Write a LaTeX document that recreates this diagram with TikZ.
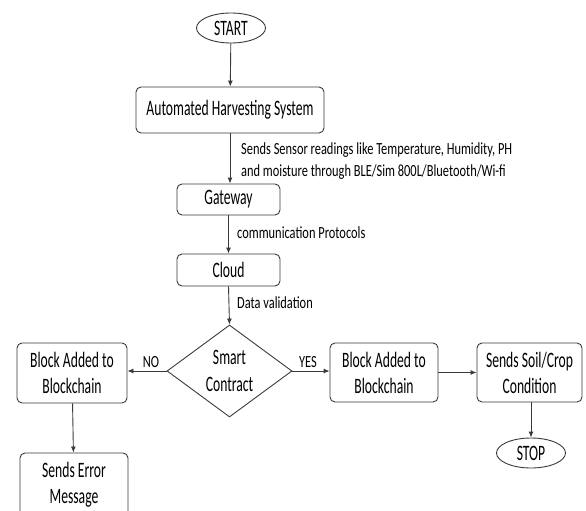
\documentclass[tikz,border=0pt]{standalone}
\usepackage{fontspec}
\setmainfont{Carlito}[FakeStretch=0.62]
\newfontfamily\lblfont{Carlito}[FakeStretch=0.73]
\usetikzlibrary{shapes.geometric,arrows.meta}
\definecolor{lc}{HTML}{3A3A3A}
\begin{document}
\begin{tikzpicture}[x=1pt,y=-1pt,
 box/.style={draw=lc, rounded corners=5pt, line width=0.9pt, inner sep=0pt, align=center, font=\fontsize{22}{26}\selectfont},
 term/.style={draw=lc, ellipse, line width=0.9pt, inner sep=0pt, minimum width=69pt, minimum height=30pt, font=\fontsize{22}{26}\selectfont},
 lbl/.style={font=\lblfont\fontsize{17}{22}\selectfont, inner sep=0pt, align=left},
 arr/.style={draw=lc, line width=0.9pt, -{Latex[length=6pt,width=5pt]}}
]
\useasboundingbox (0,0) rectangle (586,511);
\clip (0,0) rectangle (586,511);
\node[term] (start) at (231,28) {START};
\node[box, minimum width=188pt, minimum height=46pt] (ahs) at (230,110) {Automated Harvesting System};
\node[box, minimum width=103pt, minimum height=31pt] (gw) at (228.5,199.5) {Gateway};
\node[box, minimum width=103pt, minimum height=32pt] (cloud) at (228.5,270) {Cloud};
\node[draw=lc, diamond, line width=0.9pt, inner sep=0pt, minimum width=125pt, minimum height=92pt] (dia) at (229.5,371) {};
\node[align=center, inner sep=0pt, font=\fontsize{22}{27}\selectfont] (diat) at (dia.center) {Smart\\Contract};
\node[box, minimum width=110pt, minimum height=60pt] (lb) at (72,373) {Block Added to\\Blockchain};
\node[box, minimum width=108pt, minimum height=64pt] (err) at (74,485) {Sends Error\\Message};
\node[box, minimum width=108pt, minimum height=59pt] (rb) at (384,372.5) {Block Added to\\Blockchain};
\node[box, minimum width=105pt, minimum height=59pt] (soil) at (529.5,372.5) {Sends Soil/Crop\\Condition};
\node[term] (stop) at (531,453) {STOP};

\node[lbl, anchor=west] (l1) at (241,150) {Sends Sensor readings like Temperature, Humidity, PH};
\node[lbl, anchor=west] (l2) at (241,172) {and moisture through BLE/Sim 800L/Bluetooth/Wi-fi};
\node[lbl, anchor=west] (l3) at (237,233) {communication Protocols};
\node[lbl, anchor=west] (l4) at (237,303) {Data validation};
\node[lbl] (no) at (151,362) {NO};
\node[lbl] (yes) at (308,362) {YES};

\draw[arr] (start) -- (ahs);
\draw[arr] (ahs.south) -- (ahs.south |- gw.north);
\draw[arr] (gw) -- (cloud);
\draw[arr] (cloud.south) -- (dia.north);
\draw[arr] (dia.west) -- (dia.west -| lb.east);
\draw[arr] (dia.east) -- (dia.east -| rb.west);
\draw[arr] (rb) -- (soil);
\draw[arr] (lb) -- (err);
\draw[arr] (soil.south -| stop.north) -- (stop);
\end{tikzpicture}
\end{document}
